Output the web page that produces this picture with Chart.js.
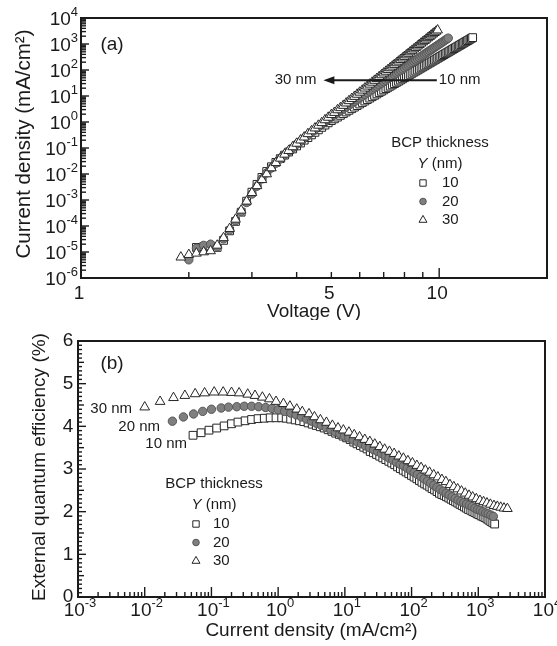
<!DOCTYPE html>
<html>
<head>
<meta charset="utf-8">
<script src="https://cdn.jsdelivr.net/npm/chart.js@4.4.0/dist/chart.umd.min.js"></script>
<style>
  html, body { margin: 0; padding: 0; background: #fff; }
  #wrap { position: relative; width: 557px; height: 646px; }
  canvas { position: absolute; left: 0; }
  #jv { top: 0; }
  #eqe { top: 320px; }
</style>
</head>
<body>
<div id="wrap">
  <canvas id="jv" width="557" height="320"></canvas>
  <canvas id="eqe" width="557" height="326"></canvas>
</div>
<script>
// applied voltage (V), shared by all three devices
const voltage = [
  1.9, 2.0, 2.1, 2.2, 2.3, 2.4, 2.5, 2.6, 2.7, 2.8, 2.9,
  3.0, 3.1, 3.2, 3.3, 3.4, 3.5, 3.6, 3.7, 3.8, 3.9,
  4.0, 4.1, 4.2, 4.3, 4.4, 4.5, 4.6, 4.7, 4.8, 4.9,
  5.0, 5.1, 5.2, 5.3, 5.4, 5.5, 5.6, 5.7, 5.8, 5.9,
  6.0, 6.1, 6.2, 6.3, 6.4, 6.5, 6.6, 6.7, 6.8, 6.9,
  7.0, 7.1, 7.2, 7.3, 7.4, 7.5, 7.6, 7.7, 7.8, 7.9,
  8.0, 8.1, 8.2, 8.3, 8.4, 8.5, 8.6, 8.7, 8.8, 8.9,
  9.0, 9.1, 9.2, 9.3, 9.4, 9.5, 9.6, 9.7, 9.8, 9.9,
  10.0, 10.1, 10.2, 10.3, 10.4, 10.5, 10.6, 10.7, 10.8, 10.9,
  11.0, 11.1, 11.2, 11.3, 11.4, 11.5, 11.6, 11.7, 11.8, 11.9,
  12.0, 12.1, 12.2, 12.3, 12.4
];

// current density (mA/cm2) at each voltage, BCP 30 / 20 / 10 nm
const j30 = [
  6.3e-6, 7.9e-6, 8.9e-6, 1.0e-5, 1.1e-5, 1.8e-5, 3.5e-5, 7.9e-5, 1.8e-4, 4.0e-4, 8.9e-4,
  1.9e-3, 3.5e-3, 6.0e-3, 1.0e-2, 1.7e-2, 2.7e-2, 4.0e-2, 5.7e-2, 7.9e-2, 0.11,
  0.15, 0.20, 0.26, 0.35, 0.45, 0.58, 0.74, 0.93, 1.2, 1.5,
  1.9, 2.3, 2.9, 3.5, 4.3, 5.3, 6.5, 7.9, 9.5, 11.5,
  13.8, 16.6, 19.9, 23.7, 28.1, 33.4, 39.5, 46.6, 54.8, 64.4,
  75.4, 88.1, 103, 120, 139, 161, 186, 215, 248, 285,
  327, 376, 430, 491, 560, 638, 726, 824, 935, 1060,
  1200, 1350, 1520, 1720, 1930, 2170, 2430, 2730, 3050, 3410
];
const j20 = [
  null, 5.0e-6, 1.4e-5, 1.8e-5, 2.0e-5, 1.6e-5, 3.2e-5, 7.0e-5, 1.6e-4, 3.6e-4, 8.0e-4,
  1.7e-3, 3.4e-3, 6.5e-3, 1.1e-2, 1.7e-2, 2.6e-2, 3.8e-2, 5.4e-2, 7.4e-2, 0.10,
  0.14, 0.18, 0.24, 0.31, 0.40, 0.51, 0.65, 0.81, 1.0, 1.25,
  1.55, 1.86, 2.23, 2.66, 3.17, 3.76, 4.45, 5.24, 6.15, 7.21,
  8.43, 9.84, 11.5, 13.3, 15.4, 17.8, 20.5, 23.5, 27.0, 31.0,
  35.4, 40.4, 46.0, 52.2, 59.3, 67.3, 76.0, 85.9, 96.8, 109,
  122, 138, 154, 173, 193, 215, 240, 267, 297, 330,
  366, 406, 450, 497, 550, 605, 668, 736, 809, 889,
  977, 1070, 1170, 1290, 1410, 1540, 1680
];
const j10 = [
  null, null, 1.5e-5, 1.6e-5, 1.7e-5, 1.5e-5, 2.8e-5, 6.5e-5, 1.5e-4, 3.4e-4, 9.0e-4,
  2.0e-3, 4.0e-3, 7.4e-3, 1.25e-2, 1.9e-2, 2.8e-2, 3.9e-2, 5.3e-2, 7.0e-2, 9.2e-2,
  0.12, 0.155, 0.20, 0.25, 0.32, 0.40, 0.50, 0.62, 0.76, 0.93,
  1.13, 1.32, 1.54, 1.80, 2.09, 2.43, 2.81, 3.24, 3.73, 4.28,
  4.91, 5.62, 6.41, 7.29, 8.28, 9.39, 10.6, 12.0, 13.6, 15.2,
  17.1, 19.2, 21.5, 24.0, 26.8, 29.9, 33.3, 37.0, 41.1, 45.6,
  50.5, 55.8, 61.6, 68.0, 75.0, 82.5, 90.7, 99.6, 109, 120,
  131, 143, 157, 171, 187, 203, 221, 241, 261, 284,
  308, 333, 361, 391, 423, 457, 493, 532, 574, 619,
  667, 716, 771, 828, 889, 955, 1020, 1100, 1180, 1260,
  1350, 1440, 1540, 1650, 1760
];

// external quantum efficiency (%) at the same points (null = not measured)
const eqe30 = [
  null, null, null, null, null, null, null, null, null, null, null,
  null, null, null, 4.45, 4.58, 4.67, 4.72, 4.76, 4.78, 4.80,
  4.80, 4.79, 4.78, 4.75, 4.72, 4.68, 4.64, 4.58, 4.53, 4.47,
  4.40, 4.34, 4.29, 4.22, 4.15, 4.09, 4.02, 3.96, 3.91, 3.86,
  3.80, 3.75, 3.69, 3.64, 3.58, 3.52, 3.46, 3.41, 3.36, 3.30,
  3.25, 3.19, 3.14, 3.08, 3.03, 2.97, 2.92, 2.86, 2.81, 2.75,
  2.70, 2.63, 2.58, 2.53, 2.48, 2.43, 2.38, 2.34, 2.30, 2.26,
  2.23, 2.20, 2.17, 2.14, 2.12, 2.10, 2.08, 2.07
];
const eqe20 = [
  null, null, null, null, null, null, null, null, null, null, null,
  null, null, null, null, null, 4.12, 4.22, 4.29, 4.35, 4.40,
  4.43, 4.45, 4.46, 4.47, 4.47, 4.46, 4.44, 4.42, 4.39, 4.35,
  4.31, 4.27, 4.22, 4.17, 4.12, 4.07, 4.02, 3.97, 3.92, 3.87,
  3.82, 3.77, 3.73, 3.68, 3.63, 3.59, 3.54, 3.50, 3.45, 3.41,
  3.36, 3.31, 3.26, 3.21, 3.16, 3.11, 3.07, 3.02, 2.97, 2.92,
  2.87, 2.82, 2.77, 2.72, 2.67, 2.62, 2.57, 2.52, 2.48, 2.43,
  2.39, 2.35, 2.31, 2.27, 2.24, 2.21, 2.18, 2.15, 2.12, 2.08,
  2.05, 2.03, 2.00, 1.97, 1.95, 1.92, 1.89
];
const eqe10 = [
  null, null, null, null, null, null, null, null, null, null, null,
  null, null, null, null, null, null, null, 3.79, 3.85, 3.91,
  3.96, 4.01, 4.06, 4.10, 4.13, 4.16, 4.18, 4.19, 4.20, 4.20,
  4.20, 4.19, 4.17, 4.15, 4.13, 4.11, 4.08, 4.05, 4.02, 3.99,
  3.96, 3.92, 3.88, 3.84, 3.81, 3.77, 3.73, 3.69, 3.63, 3.59,
  3.55, 3.51, 3.47, 3.41, 3.38, 3.34, 3.30, 3.26, 3.22, 3.18,
  3.14, 3.10, 3.05, 3.01, 2.97, 2.93, 2.89, 2.85, 2.81, 2.77,
  2.73, 2.69, 2.65, 2.62, 2.58, 2.54, 2.51, 2.47, 2.43, 2.40,
  2.38, 2.35, 2.32, 2.29, 2.26, 2.23, 2.20, 2.17, 2.14, 2.11,
  2.08, 2.05, 2.03, 2.00, 1.98, 1.95, 1.93, 1.90, 1.88, 1.86,
  1.83, 1.80, 1.77, 1.74, 1.71
];

// axis ticks
const jvYExps = [-6, -5, -4, -3, -2, -1, 0, 1, 2, 3, 4];
const jvXLabels = [1, 5, 10];
const eqeXExps = [-3, -2, -1, 0, 1, 2, 3, 4];
const eqeYLabels = [0, 1, 2, 3, 4, 5, 6];

const INK = '#1a1a1a';
const FONT = '"Liberation Sans", Arial, Helvetica, sans-serif';

// drawing order: first dataset ends up on top
const series = [
  { nm: '30', j: j30, eqe: eqe30, style: 'triangle', fill: '#ffffff', edge: '#262626', r: 5.6, lr: 4.6 },
  { nm: '20', j: j20, eqe: eqe20, style: 'circle', fill: '#7f7f7f', edge: '#565656', r: 4.2, lr: 3.3 },
  { nm: '10', j: j10, eqe: eqe10, style: 'rect', fill: '#ffffff', edge: '#262626', r: 5.5, lr: 3.2 }
];
const legendOrder = [series[2], series[1], series[0]];

function pairs(xs, ys) {
  const out = [];
  xs.forEach((x, i) => {
    if (x != null && ys[i] != null) out.push({ x: x, y: ys[i] });
  });
  return out;
}

function text(ctx, s, x, y, size, align, style) {
  ctx.font = (style || '') + ' ' + size + 'px ' + FONT;
  ctx.textAlign = align || 'center';
  ctx.textBaseline = 'middle';
  ctx.fillText(s, x, y);
}

function powLabel(ctx, exp, x, y, align) {
  ctx.textAlign = 'left';
  ctx.textBaseline = 'middle';
  ctx.font = '19px ' + FONT;
  const w1 = ctx.measureText('10').width;
  ctx.font = '13px ' + FONT;
  const s = String(exp);
  const w2 = ctx.measureText(s).width;
  const x0 = align === 'right' ? x - w1 - w2 : x - (w1 + w2) / 2;
  ctx.font = '19px ' + FONT;
  ctx.fillText('10', x0, y);
  ctx.font = '13px ' + FONT;
  ctx.fillText(s, x0 + w1, y - 8);
}

function hLine(ctx, x1, x2, y) {
  ctx.beginPath(); ctx.moveTo(x1, y); ctx.lineTo(x2, y); ctx.stroke();
}
function vLine(ctx, x, y1, y2) {
  ctx.beginPath(); ctx.moveTo(x, y1); ctx.lineTo(x, y2); ctx.stroke();
}

function drawMark(ctx, s, x, y, r) {
  ctx.fillStyle = s.fill;
  ctx.strokeStyle = s.edge;
  ctx.lineWidth = 1;
  ctx.beginPath();
  if (s.style === 'rect') ctx.rect(x - r, y - r, 2 * r, 2 * r);
  else if (s.style === 'circle') ctx.arc(x, y, r, 0, 2 * Math.PI);
  else {
    ctx.moveTo(x, y - r);
    ctx.lineTo(x + r * 0.866, y + r * 0.5);
    ctx.lineTo(x - r * 0.866, y + r * 0.5);
    ctx.closePath();
  }
  ctx.fill();
  ctx.stroke();
}

function drawLegend(ctx, cx, top, symX, textX) {
  ctx.fillStyle = INK;
  text(ctx, 'BCP thickness', cx, top, 15);
  ctx.font = 'italic 15px ' + FONT;
  const wY = ctx.measureText('Y').width;
  ctx.font = '15px ' + FONT;
  const wR = ctx.measureText(' (nm)').width;
  const x0 = cx - (wY + wR) / 2;
  text(ctx, 'Y', x0, top + 21, 15, 'left', 'italic');
  text(ctx, ' (nm)', x0 + wY, top + 21, 15, 'left');
  legendOrder.forEach((s, i) => {
    const yy = top + 40 + i * 18.5;
    drawMark(ctx, s, symX, yy, s.lr);
    ctx.fillStyle = INK;
    text(ctx, s.nm, textX, yy, 15, 'left');
  });
}

function yTitle(ctx, s, x, y, size) {
  ctx.save();
  ctx.translate(x, y);
  ctx.rotate(-Math.PI / 2);
  text(ctx, s, 0, 0, size);
  ctx.restore();
}

const jvAxes = {
  id: 'jvAxes',
  afterDraw(chart) {
    const { ctx, chartArea: a, scales: { x, y } } = chart;
    ctx.save();
    ctx.strokeStyle = INK;
    ctx.fillStyle = INK;
    ctx.lineWidth = 1.4;
    jvYExps.forEach((e, i) => {
      const py = y.getPixelForValue(Math.pow(10, e));
      hLine(ctx, a.left, a.left + 8, py);
      if (i < jvYExps.length - 1) {
        for (let k = 2; k <= 9; k++) hLine(ctx, a.left, a.left + 5, y.getPixelForValue(k * Math.pow(10, e)));
      }
      powLabel(ctx, e, a.left - 3, py + 2, 'right');
    });
    for (let v = 2; v <= 10; v++) {
      vLine(ctx, x.getPixelForValue(v), a.bottom, a.bottom - (v === 10 ? 10 : 6));
    }
    jvXLabels.forEach(v => text(ctx, String(v), x.getPixelForValue(v) - 2, a.bottom + 16, 19));
    ctx.lineWidth = 2;
    ctx.strokeRect(a.left, a.top, a.right - a.left, a.bottom - a.top);

    text(ctx, 'Voltage (V)', (a.left + a.right) / 2, 312, 19);
    yTitle(ctx, 'Current density (mA/cm\u00B2)', 24, 144, 20.5);
    text(ctx, '(a)', 112, 45, 19);

    // arrow from the 10 nm curve towards the 30 nm curve
    const ay = y.getPixelForValue(40);
    const xTail = x.getPixelForValue(9.85);
    const xTip = x.getPixelForValue(4.75);
    ctx.lineWidth = 2;
    hLine(ctx, xTail, xTip + 8, ay);
    ctx.beginPath();
    ctx.moveTo(xTip, ay);
    ctx.lineTo(xTip + 11, ay - 4);
    ctx.lineTo(xTip + 11, ay + 4);
    ctx.closePath();
    ctx.fill();
    text(ctx, '30 nm', xTip - 7, ay, 15, 'right');
    text(ctx, '10 nm', xTail + 2, ay, 15, 'left');

    drawLegend(ctx, 440, 143, 423, 442);
    ctx.restore();
  }
};

const eqeAxes = {
  id: 'eqeAxes',
  afterDraw(chart) {
    const { ctx, chartArea: a, scales: { x, y } } = chart;
    ctx.save();
    ctx.strokeStyle = INK;
    ctx.fillStyle = INK;
    ctx.lineWidth = 1.4;
    for (let t = 0; t <= 60; t++) {
      const len = t % 10 === 0 ? 8 : (t % 5 === 0 ? 6 : 4);
      hLine(ctx, a.left, a.left + len, y.getPixelForValue(t / 10));
    }
    eqeYLabels.forEach(v => text(ctx, String(v), a.left - 10, y.getPixelForValue(v), 19));
    eqeXExps.forEach((e, i) => {
      const px = x.getPixelForValue(Math.pow(10, e));
      vLine(ctx, px, a.bottom, a.bottom - 10);
      if (i < eqeXExps.length - 1) {
        for (let k = 2; k <= 9; k++) vLine(ctx, x.getPixelForValue(k * Math.pow(10, e)), a.bottom, a.bottom - 5);
      }
      powLabel(ctx, e, px + 2, a.bottom + 14, 'center');
    });
    ctx.lineWidth = 2;
    ctx.strokeRect(a.left, a.top, a.right - a.left, a.bottom - a.top);

    text(ctx, 'Current density (mA/cm\u00B2)', (a.left + a.right) / 2, 311, 19);
    yTitle(ctx, 'External quantum efficiency (%)', 40, 147, 19);
    text(ctx, '(b)', 112, 44, 19);
    text(ctx, '30 nm', 132, 89, 15, 'right');
    text(ctx, '20 nm', 160, 107, 15, 'right');
    text(ctx, '10 nm', 187, 124, 15, 'right');

    drawLegend(ctx, 214, 164, 196, 213);
    ctx.restore();
  }
};

function dataset(s, data) {
  return {
    label: s.nm + ' nm',
    data: data,
    pointStyle: s.style,
    pointRadius: s.r,
    pointHoverRadius: s.r,
    pointBackgroundColor: s.fill,
    pointBorderColor: s.edge,
    pointBorderWidth: 1,
    showLine: false
  };
}

const common = {
  responsive: false,
  animation: false,
  devicePixelRatio: 1,
  events: [],
  plugins: { legend: { display: false }, tooltip: { enabled: false } }
};

new Chart(document.getElementById('jv'), {
  type: 'scatter',
  data: { datasets: series.map(s => dataset(s, pairs(voltage, s.j))) },
  options: Object.assign({}, common, {
    layout: { padding: { left: 81, right: 10, top: 18, bottom: 42 } },
    scales: {
      x: { type: 'logarithmic', min: 1, max: 20, display: false },
      y: { type: 'logarithmic', min: 1e-6, max: 1e4, display: false }
    }
  }),
  plugins: [jvAxes]
});

new Chart(document.getElementById('eqe'), {
  type: 'scatter',
  data: { datasets: series.map(s => dataset(s, pairs(s.j, s.eqe))) },
  options: Object.assign({}, common, {
    layout: { padding: { left: 78, right: 12, top: 21, bottom: 49 } },
    scales: {
      x: { type: 'logarithmic', min: 1e-3, max: 1e4, display: false },
      y: { type: 'linear', min: 0, max: 6, display: false }
    }
  }),
  plugins: [eqeAxes]
});
</script>
</body>
</html>
